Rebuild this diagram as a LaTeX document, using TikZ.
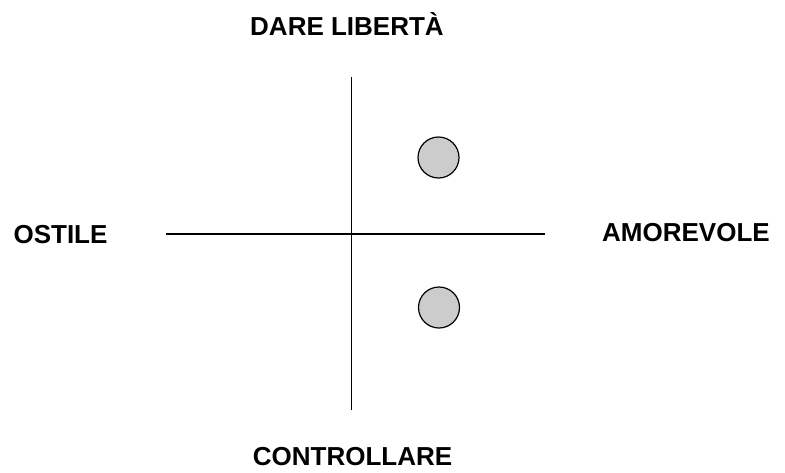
\documentclass[tikz,border=0pt]{standalone}
\usepackage{fontspec}
\setmainfont{Liberation Sans}
\usepackage{xcolor}
\usepackage{tikz}
\definecolor{dotgray}{HTML}{CCCCCC}

\begin{document}
\begin{tikzpicture}[
  x=1pt, y=-1pt,
  axis/.style={draw=black, line width=1.3pt},
  dot/.style={circle, draw=black, fill=dotgray, line width=1.2pt,
    minimum size=41pt, inner sep=0pt},
  label/.style={anchor=base, inner sep=0pt,
    font=\fontsize{26}{30}\selectfont\bfseries}
]
\useasboundingbox (0,0) rectangle (785,472);

\coordinate (top) at (351.5,77);
\coordinate (bottom) at (351.5,410);
\coordinate (left) at (166,234);
\coordinate (right) at (545,234);

\draw[axis] (top) -- (bottom);
\draw[axis] (left) -- (right);

\node[dot] (upper) at (438.5,157.5) {};
\node[dot] (lower) at (439,307.5) {};

\node[label] (freedom) at (347,35) {DARE LIBERTÀ};
\node[label] (hostile) at (60.5,243) {OSTILE};
\node[label] (loving) at (686,241.5) {AMOREVOLE};
\node[label] (control) at (352.5,465) {CONTROLLARE};

\end{tikzpicture}
\end{document}
